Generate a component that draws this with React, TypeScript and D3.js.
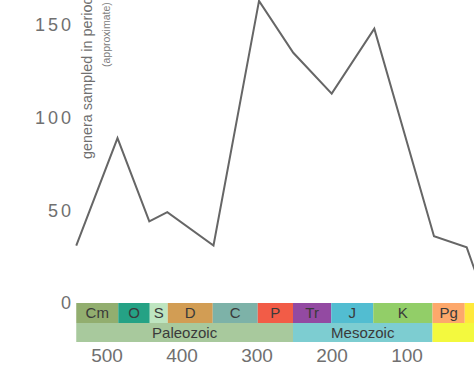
import { useEffect, useRef } from "react";
import * as d3 from "d3";

// sampled genera per time bin (Ma ago -> count)
const ages = [541, 486, 443.6, 419.6, 358, 297.3, 251.6, 200.4, 143.6, 64, 20.4, 11.6, 2.6];
const genera = [31, 89, 44, 49, 31, 163, 135, 113, 148, 36, 30, 20, 10];

const periodNames = ["Cm", "O", "S", "D", "C", "P", "Tr", "J", "K", "Pg", ""];
const periodStarts = [541, 485, 443, 419, 359, 299, 252, 201, 145, 66, 23];
const periodEnds = [485, 443, 419, 359, 299, 252, 201, 145, 66, 23, 0];
const periodColors = ["#7FA056", "#009270", "#B3E1B6", "#CB8C37", "#67A599", "#F04028", "#812B92", "#34B2C9", "#7FC64E", "#FD9A52", "#FFE619"];

const eraNames = ["Paleozoic", "Mesozoic", ""];
const eraStarts = [541, 252, 66];
const eraEnds = [252, 66, 0];
const eraColors = ["#99C08D", "#67C5CA", "#F2F91D"];

const yTicks = [0, 50, 100, 150];
const xTicks = [500, 400, 300, 200, 100];

const W = 474;
const H = 365;

const App: React.FC = () => {
  const svgRef = useRef<SVGSVGElement | null>(null);

  useEffect(() => {
    if (!svgRef.current) return;
    const svg = d3.select(svgRef.current);
    svg.selectAll("*").remove();

    const x = d3.scaleLinear().domain([500, 100]).range([107, 407]);
    const y = d3.scaleLinear().domain([0, 150]).range([303, 25]);

    const font = "Liberation Sans, Arial, sans-serif";

    // y tick labels
    svg
      .selectAll("text.ytick")
      .data(yTicks)
      .enter()
      .append("text")
      .attr("class", "ytick")
      .attr("x", 74)
      .attr("y", (d) => y(d))
      .attr("dy", "0.36em")
      .attr("text-anchor", "end")
      .attr("font-family", font)
      .attr("font-size", 18)
      .attr("letter-spacing", 3)
      .attr("fill", "#707070")
      .text((d) => d);

    // axis title (cropped at the top, as in the source figure)
    svg
      .append("text")
      .attr("transform", "translate(92,159) rotate(-90)")
      .attr("font-family", font)
      .attr("font-size", 14.4)
      .attr("fill", "#707070")
      .text("genera sampled in period");
    svg
      .append("text")
      .attr("transform", "translate(110,67) rotate(-90)")
      .attr("font-family", font)
      .attr("font-size", 10.5)
      .attr("fill", "#808080")
      .text("(approximate)");

    // geologic periods
    const rowTop = 303;
    const rowH = 20;
    const pg = svg.append("g").attr("opacity", 0.85);
    pg.selectAll("rect.period")
      .data(periodNames)
      .enter()
      .append("rect")
      .attr("x", (_, i) => x(periodStarts[i]))
      .attr("y", rowTop)
      .attr("width", (_, i) => x(periodEnds[i]) - x(periodStarts[i]))
      .attr("height", rowH)
      .attr("fill", (_, i) => periodColors[i]);
    pg.selectAll("rect.era")
      .data(eraNames)
      .enter()
      .append("rect")
      .attr("x", (_, i) => x(eraStarts[i]))
      .attr("y", rowTop + rowH)
      .attr("width", (_, i) => x(eraEnds[i]) - x(eraStarts[i]))
      .attr("height", 19)
      .attr("fill", (_, i) => eraColors[i]);

    svg
      .selectAll("text.period")
      .data(periodNames)
      .enter()
      .append("text")
      .attr("x", (_, i) => (x(periodStarts[i]) + x(periodEnds[i])) / 2)
      .attr("y", rowTop + rowH / 2)
      .attr("dy", "0.36em")
      .attr("text-anchor", "middle")
      .attr("font-family", font)
      .attr("font-size", 15)
      .attr("fill", "#3a3a3a")
      .text((d) => d);

    svg
      .selectAll("text.era")
      .data(eraNames)
      .enter()
      .append("text")
      .attr("x", (_, i) => (x(eraStarts[i]) + x(eraEnds[i])) / 2)
      .attr("y", rowTop + rowH + 9.5)
      .attr("dy", "0.36em")
      .attr("text-anchor", "middle")
      .attr("font-family", font)
      .attr("font-size", 15)
      .attr("fill", "#3a3a3a")
      .text((d) => d);

    // x tick labels
    svg
      .selectAll("text.xtick")
      .data(xTicks)
      .enter()
      .append("text")
      .attr("x", (d) => x(d))
      .attr("y", 362)
      .attr("text-anchor", "middle")
      .attr("font-family", font)
      .attr("font-size", 19)
      .attr("fill", "#707070")
      .text((d) => d);

    // diversity line
    const line = d3
      .line<number>()
      .x((_, i) => x(ages[i]))
      .y((d) => y(d));
    svg
      .append("path")
      .datum(genera)
      .attr("d", line)
      .attr("fill", "none")
      .attr("stroke", "#666")
      .attr("stroke-width", 2)
      .attr("stroke-linejoin", "miter");
  }, []);

  return (
    <div style={{ position: "fixed", left: 0, top: 0, background: "#fff" }}>
      <svg ref={svgRef} width={W} height={H} style={{ display: "block" }} />
    </div>
  );
};

export default App;
